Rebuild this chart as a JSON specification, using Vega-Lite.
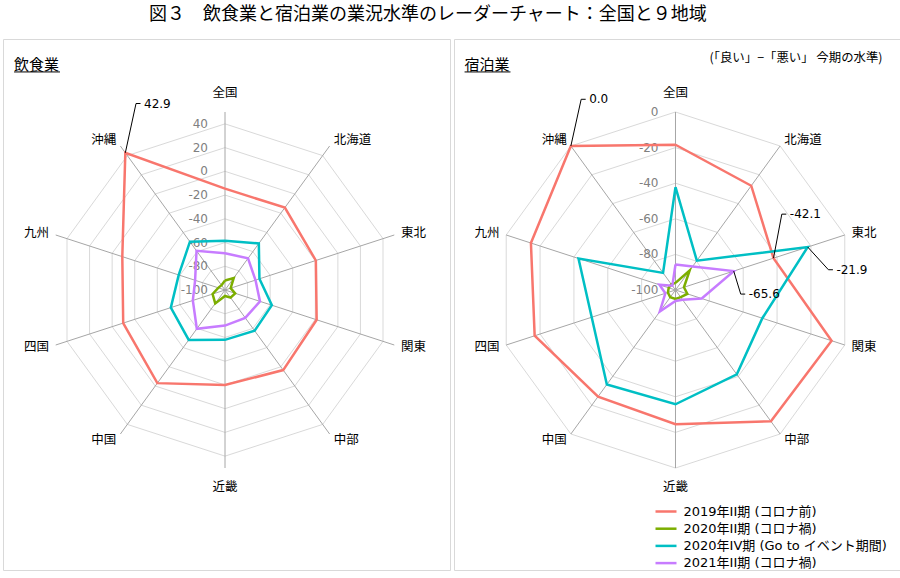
{
"$schema": "https://vega.github.io/schema/vega-lite/v6.json",
"background": "white",
"padding": {"left": 2, "top": 5, "right": 0, "bottom": 0},
"title": {"text": "図３　飲食業と宿泊業の業況水準のレーダーチャート：全国と９地域", "anchor": "start", "frame": "group", "dx": 146, "fontSize": 18, "font": "Noto Sans CJK JP", "fontWeight": "normal", "color": "black", "offset": 15},
"config": {"view": {"stroke": "#d9d9d9", "strokeWidth": 1}, "concat": {"spacing": 2}},
"resolve": {"legend": {"color": "independent"}},
"datasets": {
"vals": [
{"panel":"飲食業","series":"2019年II期 (コロナ前)","region":"全国","value":-14.6},
{"panel":"飲食業","series":"2019年II期 (コロナ前)","region":"北海道","value":-14.2},
{"panel":"飲食業","series":"2019年II期 (コロナ前)","region":"東北","value":-19.5},
{"panel":"飲食業","series":"2019年II期 (コロナ前)","region":"関東","value":-18.8},
{"panel":"飲食業","series":"2019年II期 (コロナ前)","region":"中部","value":-16.6},
{"panel":"飲食業","series":"2019年II期 (コロナ前)","region":"近畿","value":-19.9},
{"panel":"飲食業","series":"2019年II期 (コロナ前)","region":"中国","value":-3.0},
{"panel":"飲食業","series":"2019年II期 (コロナ前)","region":"四国","value":-9.8},
{"panel":"飲食業","series":"2019年II期 (コロナ前)","region":"九州","value":-9.0},
{"panel":"飲食業","series":"2019年II期 (コロナ前)","region":"沖縄","value":42.9},
{"panel":"飲食業","series":"2020年II期 (コロナ禍)","region":"全国","value":-92},
{"panel":"飲食業","series":"2020年II期 (コロナ禍)","region":"北海道","value":-87.5},
{"panel":"飲食業","series":"2020年II期 (コロナ禍)","region":"東北","value":-95},
{"panel":"飲食業","series":"2020年II期 (コロナ禍)","region":"関東","value":-91},
{"panel":"飲食業","series":"2020年II期 (コロナ禍)","region":"中部","value":-92},
{"panel":"飲食業","series":"2020年II期 (コロナ禍)","region":"近畿","value":-95},
{"panel":"飲食業","series":"2020年II期 (コロナ禍)","region":"中国","value":-86},
{"panel":"飲食業","series":"2020年II期 (コロナ禍)","region":"四国","value":-89},
{"panel":"飲食業","series":"2020年II期 (コロナ禍)","region":"九州","value":-94},
{"panel":"飲食業","series":"2020年II期 (コロナ禍)","region":"沖縄","value":-95},
{"panel":"飲食業","series":"2020年IV期 (Go to イベント期間)","region":"全国","value":-58.4},
{"panel":"飲食業","series":"2020年IV期 (Go to イベント期間)","region":"北海道","value":-51.5},
{"panel":"飲食業","series":"2020年IV期 (Go to イベント期間)","region":"東北","value":-69.5},
{"panel":"飲食業","series":"2020年IV期 (Go to イベント期間)","region":"関東","value":-58.5},
{"panel":"飲食業","series":"2020年IV期 (Go to イベント期間)","region":"中部","value":-57.5},
{"panel":"飲食業","series":"2020年IV期 (Go to イベント期間)","region":"近畿","value":-58},
{"panel":"飲食業","series":"2020年IV期 (Go to イベント期間)","region":"中国","value":-48},
{"panel":"飲食業","series":"2020年IV期 (Go to イベント期間)","region":"四国","value":-52},
{"panel":"飲食業","series":"2020年IV期 (Go to イベント期間)","region":"九州","value":-59},
{"panel":"飲食業","series":"2020年IV期 (Go to イベント期間)","region":"沖縄","value":-49.7},
{"panel":"飲食業","series":"2021年II期 (コロナ禍)","region":"全国","value":-69},
{"panel":"飲食業","series":"2021年II期 (コロナ禍)","region":"北海道","value":-67},
{"panel":"飲食業","series":"2021年II期 (コロナ禍)","region":"東北","value":-73},
{"panel":"飲食業","series":"2021年II期 (コロナ禍)","region":"関東","value":-69},
{"panel":"飲食業","series":"2021年II期 (コロナ禍)","region":"中部","value":-71},
{"panel":"飲食業","series":"2021年II期 (コロナ禍)","region":"近畿","value":-70},
{"panel":"飲食業","series":"2021年II期 (コロナ禍)","region":"中国","value":-59.6},
{"panel":"飲食業","series":"2021年II期 (コロナ禍)","region":"四国","value":-71.5},
{"panel":"飲食業","series":"2021年II期 (コロナ禍)","region":"九州","value":-73.5},
{"panel":"飲食業","series":"2021年II期 (コロナ禍)","region":"沖縄","value":-59.2},
{"panel":"宿泊業","series":"2019年II期 (コロナ前)","region":"全国","value":-18.4},
{"panel":"宿泊業","series":"2019年II期 (コロナ前)","region":"北海道","value":-27.6},
{"panel":"宿泊業","series":"2019年II期 (コロナ前)","region":"東北","value":-42.1},
{"panel":"宿泊業","series":"2019年II期 (コロナ前)","region":"関東","value":-7.8},
{"panel":"宿泊業","series":"2019年II期 (コロナ前)","region":"中部","value":-8.8},
{"panel":"宿泊業","series":"2019年II期 (コロナ前)","region":"近畿","value":-24.6},
{"panel":"宿泊業","series":"2019年II期 (コロナ前)","region":"中国","value":-26},
{"panel":"宿泊業","series":"2019年II期 (コロナ前)","region":"四国","value":-16.8},
{"panel":"宿泊業","series":"2019年II期 (コロナ前)","region":"九州","value":-14.6},
{"panel":"宿泊業","series":"2019年II期 (コロナ前)","region":"沖縄","value":0.0},
{"panel":"宿泊業","series":"2020年II期 (コロナ禍)","region":"全国","value":-96},
{"panel":"宿泊業","series":"2020年II期 (コロナ禍)","region":"北海道","value":-86.5},
{"panel":"宿泊業","series":"2020年II期 (コロナ禍)","region":"東北","value":-95},
{"panel":"宿泊業","series":"2020年II期 (コロナ禍)","region":"関東","value":-93},
{"panel":"宿泊業","series":"2020年II期 (コロナ禍)","region":"中部","value":-95},
{"panel":"宿泊業","series":"2020年II期 (コロナ禍)","region":"近畿","value":-95},
{"panel":"宿泊業","series":"2020年II期 (コロナ禍)","region":"中国","value":-95},
{"panel":"宿泊業","series":"2020年II期 (コロナ禍)","region":"四国","value":-95.5},
{"panel":"宿泊業","series":"2020年II期 (コロナ禍)","region":"九州","value":-96},
{"panel":"宿泊業","series":"2020年II期 (コロナ禍)","region":"沖縄","value":-96},
{"panel":"宿泊業","series":"2020年IV期 (Go to イベント期間)","region":"全国","value":-42.2},
{"panel":"宿泊業","series":"2020年IV期 (Go to イベント期間)","region":"北海道","value":-79.6},
{"panel":"宿泊業","series":"2020年IV期 (Go to イベント期間)","region":"東北","value":-21.9},
{"panel":"宿泊業","series":"2020年IV期 (Go to イベント期間)","region":"関東","value":-48.7},
{"panel":"宿泊業","series":"2020年IV期 (Go to イベント期間)","region":"中部","value":-41.4},
{"panel":"宿泊業","series":"2020年IV期 (Go to イベント期間)","region":"近畿","value":-35.8},
{"panel":"宿泊業","series":"2020年IV期 (Go to イベント期間)","region":"中国","value":-34.4},
{"panel":"宿泊業","series":"2020年IV期 (Go to イベント期間)","region":"四国","value":-50.5},
{"panel":"宿泊業","series":"2020年IV期 (Go to イベント期間)","region":"九州","value":-42.7},
{"panel":"宿泊業","series":"2020年IV期 (Go to イベント期間)","region":"沖縄","value":-88.1},
{"panel":"宿泊業","series":"2021年II期 (コロナ禍)","region":"全国","value":-85.7},
{"panel":"宿泊業","series":"2021年II期 (コロナ禍)","region":"北海道","value":-83.6},
{"panel":"宿泊業","series":"2021年II期 (コロナ禍)","region":"東北","value":-65.6},
{"panel":"宿泊業","series":"2021年II期 (コロナ禍)","region":"関東","value":-84.5},
{"panel":"宿泊業","series":"2021年II期 (コロナ禍)","region":"中部","value":-93.3},
{"panel":"宿泊業","series":"2021年II期 (コロナ禍)","region":"近畿","value":-93.8},
{"panel":"宿泊業","series":"2021年II期 (コロナ禍)","region":"中国","value":-85},
{"panel":"宿泊業","series":"2021年II期 (コロナ禍)","region":"四国","value":-94},
{"panel":"宿泊業","series":"2021年II期 (コロナ禍)","region":"九州","value":-90.5},
{"panel":"宿泊業","series":"2021年II期 (コロナ禍)","region":"沖縄","value":-97}
],
"rings": [
{"panel":"飲食業","tick":-100},{"panel":"飲食業","tick":-80},{"panel":"飲食業","tick":-60},{"panel":"飲食業","tick":-40},{"panel":"飲食業","tick":-20},{"panel":"飲食業","tick":0},{"panel":"飲食業","tick":20},{"panel":"飲食業","tick":40},
{"panel":"宿泊業","tick":-100},{"panel":"宿泊業","tick":-80},{"panel":"宿泊業","tick":-60},{"panel":"宿泊業","tick":-40},{"panel":"宿泊業","tick":-20},{"panel":"宿泊業","tick":0}
],
"regions": [
{"region":"全国"},{"region":"北海道"},{"region":"東北"},{"region":"関東"},{"region":"中部"},{"region":"近畿"},{"region":"中国"},{"region":"四国"},{"region":"九州"},{"region":"沖縄"}
]
},
"hconcat": [
{
"width": 447, "height": 531,
"layer": [
{"data": {"name": "rings"},
 "transform": [{"filter": "datum.panel=='飲食業' && datum.tick>-100"},
  {"calculate": "[0,1,2,3,4,5,6,7,8,9,10]", "as": "k"}, {"flatten": ["k"]},
  {"calculate": "(datum.tick+100)/150", "as": "rn"},
  {"calculate": "datum.rn*sin(datum.k*PI/5)", "as": "gx"},
  {"calculate": "datum.rn*cos(datum.k*PI/5)", "as": "gy"}],
 "mark": {"type": "line", "stroke": "#d9d9d9", "strokeWidth": 1},
 "encoding": {
  "x": {"field": "gx", "type": "quantitative", "scale": {"domain": [-1.2472, 1.264], "nice": false, "zero": false}, "axis": null},
  "y": {"field": "gy", "type": "quantitative", "scale": {"domain": [-1.573, 1.4101], "nice": false, "zero": false}, "axis": null},
  "detail": {"field": "tick", "type": "nominal"},
  "order": {"field": "k", "type": "quantitative"}}},
{"data": {"name": "regions"},
 "transform": [{"calculate": "indexof(['全国','北海道','東北','関東','中部','近畿','中国','四国','九州','沖縄'], datum.region)", "as": "idx"},
  {"calculate": "0", "as": "zx"},
  {"calculate": "sin(datum.idx*PI/5)", "as": "gx"},
  {"calculate": "cos(datum.idx*PI/5)", "as": "gy"}],
 "mark": {"type": "rule", "stroke": "#a6a6a6", "strokeWidth": 1},
 "encoding": {
  "x": {"field": "zx", "type": "quantitative", "scale": {"domain": [-1.2472, 1.264], "nice": false, "zero": false}, "axis": null},
  "y": {"field": "zx", "type": "quantitative", "scale": {"domain": [-1.573, 1.4101], "nice": false, "zero": false}, "axis": null},
  "x2": {"field": "gx"}, "y2": {"field": "gy"}}},
{"data": {"name": "rings"},
 "transform": [{"filter": "datum.panel=='飲食業'"},
  {"calculate": "(datum.tick+100)/150", "as": "gy"},
  {"calculate": "0", "as": "gx"},
  {"calculate": "toString(datum.tick)", "as": "lbl"}],
 "mark": {"type": "text", "align": "right", "baseline": "middle", "dx": -17, "font": "DejaVu Sans", "fontSize": 12, "color": "#808080"},
 "encoding": {
  "x": {"field": "gx", "type": "quantitative", "scale": {"domain": [-1.2472, 1.264], "nice": false, "zero": false}, "axis": null},
  "y": {"field": "gy", "type": "quantitative", "scale": {"domain": [-1.573, 1.4101], "nice": false, "zero": false}, "axis": null},
  "text": {"field": "lbl"}}},
{"data": {"name": "regions"},
 "transform": [{"calculate": "indexof(['全国','北海道','東北','関東','中部','近畿','中国','四国','九州','沖縄'], datum.region)", "as": "idx"},
  {"filter": "datum.idx>=1 && datum.idx<=4"},
  {"calculate": "1.04*sin(datum.idx*PI/5)", "as": "gx"},
  {"calculate": "1.04*cos(datum.idx*PI/5)", "as": "gy"}],
 "mark": {"type": "text", "align": "left", "baseline": "middle", "font": "Noto Sans CJK JP", "fontSize": 12.5, "color": "black"},
 "encoding": {
  "x": {"field": "gx", "type": "quantitative", "scale": {"domain": [-1.2472, 1.264], "nice": false, "zero": false}, "axis": null},
  "y": {"field": "gy", "type": "quantitative", "scale": {"domain": [-1.573, 1.4101], "nice": false, "zero": false}, "axis": null},
  "text": {"field": "region"}}},
{"data": {"name": "regions"},
 "transform": [{"calculate": "indexof(['全国','北海道','東北','関東','中部','近畿','中国','四国','九州','沖縄'], datum.region)", "as": "idx"},
  {"filter": "datum.idx>=6"},
  {"calculate": "1.04*sin(datum.idx*PI/5)", "as": "gx"},
  {"calculate": "1.04*cos(datum.idx*PI/5)", "as": "gy"}],
 "mark": {"type": "text", "align": "right", "baseline": "middle", "font": "Noto Sans CJK JP", "fontSize": 12.5, "color": "black"},
 "encoding": {
  "x": {"field": "gx", "type": "quantitative", "scale": {"domain": [-1.2472, 1.264], "nice": false, "zero": false}, "axis": null},
  "y": {"field": "gy", "type": "quantitative", "scale": {"domain": [-1.573, 1.4101], "nice": false, "zero": false}, "axis": null},
  "text": {"field": "region"}}},
{"data": {"name": "regions"},
 "transform": [{"calculate": "indexof(['全国','北海道','東北','関東','中部','近畿','中国','四国','九州','沖縄'], datum.region)", "as": "idx"},
  {"filter": "datum.idx==0 || datum.idx==5"},
  {"calculate": "1.105*sin(datum.idx*PI/5)", "as": "gx"},
  {"calculate": "1.105*cos(datum.idx*PI/5)", "as": "gy"}],
 "mark": {"type": "text", "align": "center", "baseline": "middle", "font": "Noto Sans CJK JP", "fontSize": 12.5, "color": "black"},
 "encoding": {
  "x": {"field": "gx", "type": "quantitative", "scale": {"domain": [-1.2472, 1.264], "nice": false, "zero": false}, "axis": null},
  "y": {"field": "gy", "type": "quantitative", "scale": {"domain": [-1.573, 1.4101], "nice": false, "zero": false}, "axis": null},
  "text": {"field": "region"}}},
{"data": {"name": "vals"},
 "transform": [{"filter": "datum.panel=='飲食業'"},
  {"calculate": "indexof(['全国','北海道','東北','関東','中部','近畿','中国','四国','九州','沖縄'], datum.region)", "as": "idx"},
  {"calculate": "datum.idx==0 ? [0,10] : [datum.idx]", "as": "ks"}, {"flatten": ["ks"]},
  {"calculate": "(datum.value+100)/150", "as": "rn"},
  {"calculate": "datum.rn*sin(datum.ks*PI/5)", "as": "gx"},
  {"calculate": "datum.rn*cos(datum.ks*PI/5)", "as": "gy"}],
 "mark": {"type": "line", "strokeWidth": 2.5},
 "encoding": {
  "x": {"field": "gx", "type": "quantitative", "scale": {"domain": [-1.2472, 1.264], "nice": false, "zero": false}, "axis": null},
  "y": {"field": "gy", "type": "quantitative", "scale": {"domain": [-1.573, 1.4101], "nice": false, "zero": false}, "axis": null},
  "color": {"field": "series", "type": "nominal", "scale": {"domain": ["2019年II期 (コロナ前)", "2020年II期 (コロナ禍)", "2020年IV期 (Go to イベント期間)", "2021年II期 (コロナ禍)"], "range": ["#F8766D", "#7CAE00", "#00BFC4", "#C77CFF"]}, "legend": null},
  "order": {"field": "ks", "type": "quantitative"}}},
{"data": {"name": "vals"},
 "transform": [{"filter": "datum.panel=='飲食業' && datum.region=='沖縄' && datum.series=='2019年II期 (コロナ前)'"},
  {"calculate": "(datum.value+100)/150", "as": "rn"},
  {"calculate": "datum.rn*sin(9*PI/5)", "as": "gx"},
  {"calculate": "datum.rn*cos(9*PI/5)", "as": "gy"},
  {"calculate": "datum.gx + 10.7/178", "as": "bx"},
  {"calculate": "datum.gy + 49.3/178", "as": "by"},
  {"calculate": "datum.bx + 4.5/178", "as": "tx"},
  {"calculate": "replace(format(datum.value,'.1f'),'\u2212','-')", "as": "lbl"}],
 "layer": [
  {"mark": {"type": "rule", "stroke": "black", "strokeWidth": 1},
   "encoding": {
    "x": {"field": "gx", "type": "quantitative", "scale": {"domain": [-1.2472, 1.264], "nice": false, "zero": false}, "axis": null},
    "y": {"field": "gy", "type": "quantitative", "scale": {"domain": [-1.573, 1.4101], "nice": false, "zero": false}, "axis": null},
    "x2": {"field": "bx"}, "y2": {"field": "by"}}},
  {"mark": {"type": "rule", "stroke": "black", "strokeWidth": 1},
   "encoding": {
    "x": {"field": "bx", "type": "quantitative", "scale": {"domain": [-1.2472, 1.264], "nice": false, "zero": false}, "axis": null},
    "y": {"field": "by", "type": "quantitative", "scale": {"domain": [-1.573, 1.4101], "nice": false, "zero": false}, "axis": null},
    "x2": {"field": "tx"}}},
  {"mark": {"type": "text", "align": "left", "baseline": "middle", "dx": 3.5, "font": "DejaVu Sans", "fontSize": 12, "color": "black"},
   "encoding": {
    "x": {"field": "tx", "type": "quantitative", "scale": {"domain": [-1.2472, 1.264], "nice": false, "zero": false}, "axis": null},
    "y": {"field": "by", "type": "quantitative", "scale": {"domain": [-1.573, 1.4101], "nice": false, "zero": false}, "axis": null},
    "text": {"field": "lbl"}}}
 ]},
{"data": {"values": [{}]},
 "mark": {"type": "text", "align": "left", "baseline": "middle", "font": "Noto Sans CJK JP", "fontSize": 15, "color": "black"},
 "encoding": {
  "x": {"datum": -1.185, "type": "quantitative", "scale": {"domain": [-1.2472, 1.264], "nice": false, "zero": false}, "axis": null},
  "y": {"datum": 1.264, "type": "quantitative", "scale": {"domain": [-1.573, 1.4101], "nice": false, "zero": false}, "axis": null},
  "text": {"value": "飲食業"}}},
{"data": {"values": [{}]},
 "mark": {"type": "rule", "stroke": "black", "strokeWidth": 1},
 "encoding": {
  "x": {"datum": -1.185, "type": "quantitative", "scale": {"domain": [-1.2472, 1.264], "nice": false, "zero": false}, "axis": null},
  "x2": {"datum": -0.927},
  "y": {"datum": 1.225, "type": "quantitative", "scale": {"domain": [-1.573, 1.4101], "nice": false, "zero": false}, "axis": null}}}
]
},
{
"width": 447, "height": 531,
"layer": [
{"data": {"name": "rings"},
 "transform": [{"filter": "datum.panel=='宿泊業' && datum.tick>-100"},
  {"calculate": "[0,1,2,3,4,5,6,7,8,9,10]", "as": "k"}, {"flatten": ["k"]},
  {"calculate": "(datum.tick+100)/100", "as": "rn"},
  {"calculate": "datum.rn*sin(datum.k*PI/5)", "as": "gx"},
  {"calculate": "datum.rn*cos(datum.k*PI/5)", "as": "gy"}],
 "mark": {"type": "line", "stroke": "#d9d9d9", "strokeWidth": 1},
 "encoding": {
  "x": {"field": "gx", "type": "quantitative", "scale": {"domain": [-1.2444, 1.2669], "nice": false, "zero": false}, "axis": null},
  "y": {"field": "gy", "type": "quantitative", "scale": {"domain": [-1.573, 1.4101], "nice": false, "zero": false}, "axis": null},
  "detail": {"field": "tick", "type": "nominal"},
  "order": {"field": "k", "type": "quantitative"}}},
{"data": {"name": "regions"},
 "transform": [{"calculate": "indexof(['全国','北海道','東北','関東','中部','近畿','中国','四国','九州','沖縄'], datum.region)", "as": "idx"},
  {"calculate": "0", "as": "zx"},
  {"calculate": "sin(datum.idx*PI/5)", "as": "gx"},
  {"calculate": "cos(datum.idx*PI/5)", "as": "gy"}],
 "mark": {"type": "rule", "stroke": "#a6a6a6", "strokeWidth": 1},
 "encoding": {
  "x": {"field": "zx", "type": "quantitative", "scale": {"domain": [-1.2444, 1.2669], "nice": false, "zero": false}, "axis": null},
  "y": {"field": "zx", "type": "quantitative", "scale": {"domain": [-1.573, 1.4101], "nice": false, "zero": false}, "axis": null},
  "x2": {"field": "gx"}, "y2": {"field": "gy"}}},
{"data": {"name": "rings"},
 "transform": [{"filter": "datum.panel=='宿泊業'"},
  {"calculate": "(datum.tick+100)/100", "as": "gy"},
  {"calculate": "0", "as": "gx"},
  {"calculate": "toString(datum.tick)", "as": "lbl"}],
 "mark": {"type": "text", "align": "right", "baseline": "middle", "dx": -17, "font": "DejaVu Sans", "fontSize": 12, "color": "#808080"},
 "encoding": {
  "x": {"field": "gx", "type": "quantitative", "scale": {"domain": [-1.2444, 1.2669], "nice": false, "zero": false}, "axis": null},
  "y": {"field": "gy", "type": "quantitative", "scale": {"domain": [-1.573, 1.4101], "nice": false, "zero": false}, "axis": null},
  "text": {"field": "lbl"}}},
{"data": {"name": "regions"},
 "transform": [{"calculate": "indexof(['全国','北海道','東北','関東','中部','近畿','中国','四国','九州','沖縄'], datum.region)", "as": "idx"},
  {"filter": "datum.idx>=1 && datum.idx<=4"},
  {"calculate": "1.04*sin(datum.idx*PI/5)", "as": "gx"},
  {"calculate": "1.04*cos(datum.idx*PI/5)", "as": "gy"}],
 "mark": {"type": "text", "align": "left", "baseline": "middle", "font": "Noto Sans CJK JP", "fontSize": 12.5, "color": "black"},
 "encoding": {
  "x": {"field": "gx", "type": "quantitative", "scale": {"domain": [-1.2444, 1.2669], "nice": false, "zero": false}, "axis": null},
  "y": {"field": "gy", "type": "quantitative", "scale": {"domain": [-1.573, 1.4101], "nice": false, "zero": false}, "axis": null},
  "text": {"field": "region"}}},
{"data": {"name": "regions"},
 "transform": [{"calculate": "indexof(['全国','北海道','東北','関東','中部','近畿','中国','四国','九州','沖縄'], datum.region)", "as": "idx"},
  {"filter": "datum.idx>=6"},
  {"calculate": "1.04*sin(datum.idx*PI/5)", "as": "gx"},
  {"calculate": "1.04*cos(datum.idx*PI/5)", "as": "gy"}],
 "mark": {"type": "text", "align": "right", "baseline": "middle", "font": "Noto Sans CJK JP", "fontSize": 12.5, "color": "black"},
 "encoding": {
  "x": {"field": "gx", "type": "quantitative", "scale": {"domain": [-1.2444, 1.2669], "nice": false, "zero": false}, "axis": null},
  "y": {"field": "gy", "type": "quantitative", "scale": {"domain": [-1.573, 1.4101], "nice": false, "zero": false}, "axis": null},
  "text": {"field": "region"}}},
{"data": {"name": "regions"},
 "transform": [{"calculate": "indexof(['全国','北海道','東北','関東','中部','近畿','中国','四国','九州','沖縄'], datum.region)", "as": "idx"},
  {"filter": "datum.idx==0 || datum.idx==5"},
  {"calculate": "1.105*sin(datum.idx*PI/5)", "as": "gx"},
  {"calculate": "1.105*cos(datum.idx*PI/5)", "as": "gy"}],
 "mark": {"type": "text", "align": "center", "baseline": "middle", "font": "Noto Sans CJK JP", "fontSize": 12.5, "color": "black"},
 "encoding": {
  "x": {"field": "gx", "type": "quantitative", "scale": {"domain": [-1.2444, 1.2669], "nice": false, "zero": false}, "axis": null},
  "y": {"field": "gy", "type": "quantitative", "scale": {"domain": [-1.573, 1.4101], "nice": false, "zero": false}, "axis": null},
  "text": {"field": "region"}}},
{"data": {"name": "vals"},
 "transform": [{"filter": "datum.panel=='宿泊業'"},
  {"calculate": "indexof(['全国','北海道','東北','関東','中部','近畿','中国','四国','九州','沖縄'], datum.region)", "as": "idx"},
  {"calculate": "datum.idx==0 ? [0,10] : [datum.idx]", "as": "ks"}, {"flatten": ["ks"]},
  {"calculate": "(datum.value+100)/100", "as": "rn"},
  {"calculate": "datum.rn*sin(datum.ks*PI/5)", "as": "gx"},
  {"calculate": "datum.rn*cos(datum.ks*PI/5)", "as": "gy"}],
 "mark": {"type": "line", "strokeWidth": 2.5},
 "encoding": {
  "x": {"field": "gx", "type": "quantitative", "scale": {"domain": [-1.2444, 1.2669], "nice": false, "zero": false}, "axis": null},
  "y": {"field": "gy", "type": "quantitative", "scale": {"domain": [-1.573, 1.4101], "nice": false, "zero": false}, "axis": null},
  "color": {"field": "series", "type": "nominal", "scale": {"domain": ["2019年II期 (コロナ前)", "2020年II期 (コロナ禍)", "2020年IV期 (Go to イベント期間)", "2021年II期 (コロナ禍)"], "range": ["#F8766D", "#7CAE00", "#00BFC4", "#C77CFF"]},
   "legend": {"orient": "none", "legendX": 203.5, "legendY": 464, "title": null, "symbolType": "M-1.5,0H1.5", "symbolStrokeWidth": 2.5, "symbolSize": 196, "labelFontSize": 13, "labelFont": "DejaVu Sans, Noto Sans CJK JP", "labelColor": "black", "labelOffset": 9, "rowPadding": 1.2, "padding": 0, "labelLimit": 300}},
  "order": {"field": "ks", "type": "quantitative"}}},
{"data": {"name": "vals"},
 "transform": [{"filter": "datum.panel=='宿泊業' && ((datum.series=='2019年II期 (コロナ前)' && (datum.region=='沖縄' || datum.region=='東北')) || (datum.region=='東北' && (datum.series=='2020年IV期 (Go to イベント期間)' || datum.series=='2021年II期 (コロナ禍)')))"},
  {"calculate": "indexof(['全国','北海道','東北','関東','中部','近畿','中国','四国','九州','沖縄'], datum.region)", "as": "idx"},
  {"calculate": "(datum.value+100)/100", "as": "rn"},
  {"calculate": "datum.rn*sin(datum.idx*PI/5)", "as": "gx"},
  {"calculate": "datum.rn*cos(datum.idx*PI/5)", "as": "gy"},
  {"calculate": "datum.region=='沖縄' ? 10.3 : (datum.series=='2019年II期 (コロナ前)' ? 8.3 : (datum.series=='2020年IV期 (Go to イベント期間)' ? 20.7 : 7))", "as": "ex"},
  {"calculate": "datum.region=='沖縄' ? -46.7 : (datum.series=='2019年II期 (コロナ前)' ? -44 : (datum.series=='2020年IV期 (Go to イベント期間)' ? 22.7 : 23))", "as": "ey"},
  {"calculate": "datum.gx + datum.ex/178", "as": "bx"},
  {"calculate": "datum.gy - datum.ey/178", "as": "by"},
  {"calculate": "datum.bx + 4.5/178", "as": "tx"},
  {"calculate": "replace(format(datum.value,'.1f'),'\u2212','-')", "as": "lbl"}],
 "layer": [
  {"mark": {"type": "rule", "stroke": "black", "strokeWidth": 1},
   "encoding": {
    "x": {"field": "gx", "type": "quantitative", "scale": {"domain": [-1.2444, 1.2669], "nice": false, "zero": false}, "axis": null},
    "y": {"field": "gy", "type": "quantitative", "scale": {"domain": [-1.573, 1.4101], "nice": false, "zero": false}, "axis": null},
    "x2": {"field": "bx"}, "y2": {"field": "by"}}},
  {"mark": {"type": "rule", "stroke": "black", "strokeWidth": 1},
   "encoding": {
    "x": {"field": "bx", "type": "quantitative", "scale": {"domain": [-1.2444, 1.2669], "nice": false, "zero": false}, "axis": null},
    "y": {"field": "by", "type": "quantitative", "scale": {"domain": [-1.573, 1.4101], "nice": false, "zero": false}, "axis": null},
    "x2": {"field": "tx"}}},
  {"mark": {"type": "text", "align": "left", "baseline": "middle", "dx": 3.5, "font": "DejaVu Sans", "fontSize": 12, "color": "black"},
   "encoding": {
    "x": {"field": "tx", "type": "quantitative", "scale": {"domain": [-1.2444, 1.2669], "nice": false, "zero": false}, "axis": null},
    "y": {"field": "by", "type": "quantitative", "scale": {"domain": [-1.573, 1.4101], "nice": false, "zero": false}, "axis": null},
    "text": {"field": "lbl"}}}
 ]},
{"data": {"values": [{}]},
 "mark": {"type": "text", "align": "left", "baseline": "middle", "font": "Noto Sans CJK JP", "fontSize": 15, "color": "black"},
 "encoding": {
  "x": {"datum": -1.185, "type": "quantitative", "scale": {"domain": [-1.2444, 1.2669], "nice": false, "zero": false}, "axis": null},
  "y": {"datum": 1.264, "type": "quantitative", "scale": {"domain": [-1.573, 1.4101], "nice": false, "zero": false}, "axis": null},
  "text": {"value": "宿泊業"}}},
{"data": {"values": [{}]},
 "mark": {"type": "rule", "stroke": "black", "strokeWidth": 1},
 "encoding": {
  "x": {"datum": -1.185, "type": "quantitative", "scale": {"domain": [-1.2444, 1.2669], "nice": false, "zero": false}, "axis": null},
  "x2": {"datum": -0.927},
  "y": {"datum": 1.225, "type": "quantitative", "scale": {"domain": [-1.573, 1.4101], "nice": false, "zero": false}, "axis": null}}},
{"data": {"values": [{}]},
 "mark": {"type": "text", "align": "right", "baseline": "middle", "font": "Noto Sans CJK JP", "fontSize": 12.4, "color": "black"},
 "encoding": {
  "x": {"datum": 1.163, "type": "quantitative", "scale": {"domain": [-1.2444, 1.2669], "nice": false, "zero": false}, "axis": null},
  "y": {"datum": 1.303, "type": "quantitative", "scale": {"domain": [-1.573, 1.4101], "nice": false, "zero": false}, "axis": null},
  "text": {"value": "(「良い」−「悪い」 今期の水準)"}}}
]
}
]
}
